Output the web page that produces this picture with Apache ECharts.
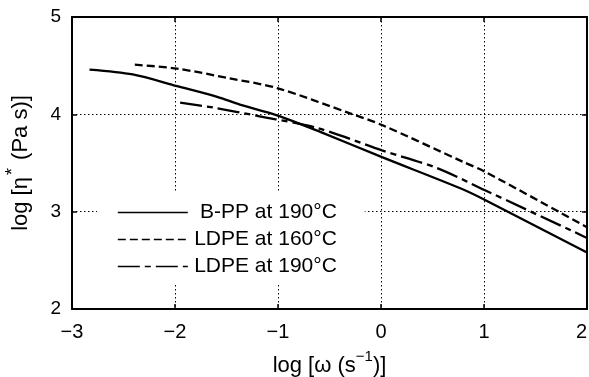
<!DOCTYPE html>
<html>
<head>
<meta charset="utf-8">
<script src="https://cdn.jsdelivr.net/npm/echarts@6/dist/echarts.min.js"></script>
<style>
  html, body { margin: 0; padding: 0; background: #fff; }
  #chart { width: 589px; height: 377px; }
</style>
</head>
<body>
<div id="chart"></div>
<script>
var myChart = echarts.init(document.getElementById('chart'));

// log ω values and log η* values
var seriesNames = ['B-PP at 190°C', 'LDPE at 160°C', 'LDPE at 190°C'];

var bppX = [-2.83, -2.41, -1.98, -1.59, -1.37, -1.01, -0.59, 0.01, 0.77, 1.01, 2.0];
var bppY = [4.46, 4.41, 4.29, 4.18, 4.10, 3.99, 3.82, 3.56, 3.24, 3.12, 2.58];

var ldpe160X = [-2.39, -1.98, -1.47, -1.01, -0.30, 0.01, 0.80, 1.01, 2.0];
var ldpe160Y = [4.51, 4.47, 4.37, 4.27, 4.01, 3.89, 3.51, 3.41, 2.84];

var ldpe190X = [-1.95, -1.63, -1.18, -0.62, 0.01, 0.54, 1.01, 1.90, 2.0];
var ldpe190Y = [4.12, 4.07, 3.98, 3.86, 3.63, 3.45, 3.22, 2.78, 2.73];

var font = 'Liberation Sans';

function pairs(xs, ys) {
    return xs.map(function (x, i) { return [x, ys[i]]; });
}
function minus(v) {
    return String(v).replace('-', '\u2212');
}

var dotted = { show: true, lineStyle: { color: '#000', type: [1.5, 2.5], width: 1 } };
var frameLine = { show: true, onZero: false, lineStyle: { color: '#000', width: 2 } };
var frameTick = { show: true, inside: true, length: 5, lineStyle: { color: '#000', width: 1.5 } };

option = {
    animation: false,
    backgroundColor: '#fff',
    textStyle: { fontFamily: font },
    grid: { left: 72, right: 2, top: 17, bottom: 68, outerBoundsMode: 'none', containLabel: false },
    legend: {
        orient: 'vertical',
        left: 97,
        top: 192,
        backgroundColor: '#fff',
        padding: [10, 28, 8, 20],
        itemWidth: 70,
        itemHeight: 14,
        itemGap: 6,
        itemStyle: { opacity: 0, color: 'transparent', borderWidth: 0 },
        lineStyle: { width: 1.6 },
        formatter: function (name) { return '{r|' + name + '}'; },
        textStyle: {
            fontFamily: font, fontSize: 21, color: '#000',
            rich: { r: { fontFamily: font, fontSize: 21, color: '#000', width: 144, align: 'right' } }
        },
        data: seriesNames
    },
    xAxis: [{
        type: 'value',
        min: -3, max: 2, interval: 1,
        position: 'bottom',
        name: '{t|log [ω (s}{s|\u22121}{t|)]}',
        nameLocation: 'middle',
        nameGap: 40,
        nameTextStyle: {
            rich: {
                t: { fontFamily: font, fontSize: 22, lineHeight: 28, color: '#000', verticalAlign: 'bottom' },
                s: { fontFamily: font, fontSize: 15, lineHeight: 15, color: '#000', verticalAlign: 'top' }
            }
        },
        axisLine: frameLine,
        axisTick: frameTick,
        axisLabel: { fontSize: 20, color: '#000', margin: 13, formatter: minus, alignMaxLabel: 'right' },
        splitLine: dotted
    }, {
        type: 'value',
        min: -3, max: 2, interval: 1,
        position: 'top',
        axisLine: frameLine,
        axisTick: frameTick,
        axisLabel: { show: false },
        splitLine: { show: false }
    }],
    yAxis: [{
        type: 'value',
        min: 2, max: 5, interval: 1,
        position: 'left',
        name: '{t|log [η}{s|*}{t| (Pa s)]}',
        nameLocation: 'middle',
        nameGap: 40,
        nameRotate: 90,
        nameTextStyle: {
            rich: {
                t: { fontFamily: font, fontSize: 22, lineHeight: 28, color: '#000', verticalAlign: 'bottom' },
                s: { fontFamily: font, fontSize: 18, lineHeight: 18, color: '#000', verticalAlign: 'top', padding: [0, 2, 0, 2] }
            }
        },
        axisLine: frameLine,
        axisTick: frameTick,
        axisLabel: { fontSize: 19, color: '#000', margin: 11 },
        splitLine: dotted
    }, {
        type: 'value',
        min: 2, max: 5, interval: 1,
        position: 'right',
        axisLine: frameLine,
        axisTick: frameTick,
        axisLabel: { show: false },
        splitLine: { show: false }
    }],
    series: [
        {
            name: seriesNames[0],
            type: 'line',
            data: pairs(bppX, bppY),
            smooth: 0.3,
            symbol: 'none',
            lineStyle: { color: '#000', width: 2.3, type: 'solid' },
            itemStyle: { color: '#000' }
        },
        {
            name: seriesNames[1],
            type: 'line',
            data: pairs(ldpe160X, ldpe160Y),
            smooth: 0.3,
            symbol: 'none',
            lineStyle: { color: '#000', width: 2.3, type: [8, 4] },
            itemStyle: { color: '#000' }
        },
        {
            name: seriesNames[2],
            type: 'line',
            data: pairs(ldpe190X, ldpe190Y),
            smooth: 0.3,
            symbol: 'none',
            lineStyle: { color: '#000', width: 2.3, type: [22, 5, 6, 5] },
            itemStyle: { color: '#000' }
        }
    ]
};

myChart.setOption(option);
</script>
</body>
</html>
